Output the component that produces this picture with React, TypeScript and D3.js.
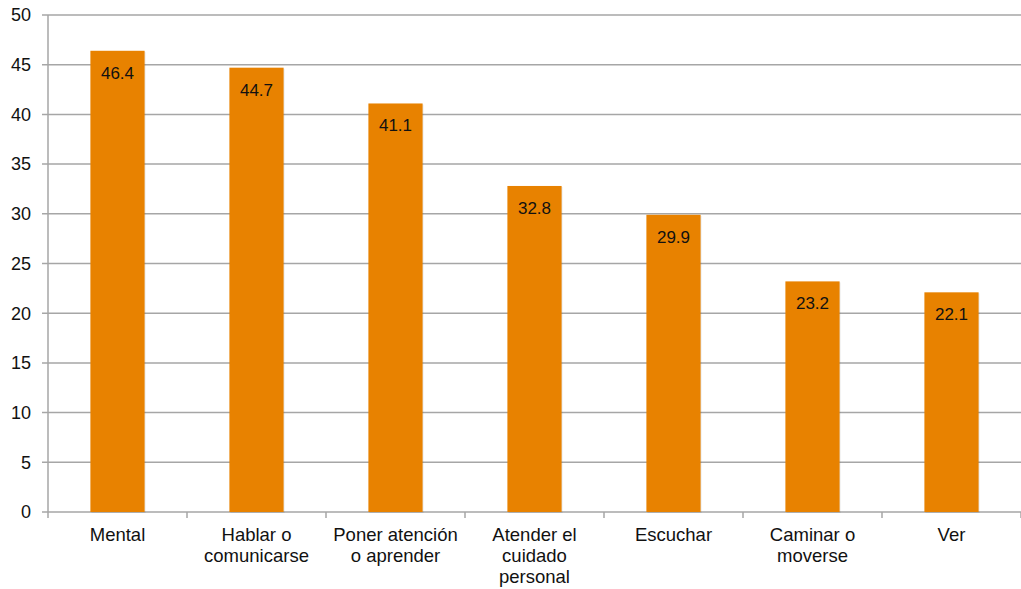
import React from "react";
import * as d3 from "d3";

const categories: string[][] = [
  ["Mental"],
  ["Hablar o", "comunicarse"],
  ["Poner atención", "o aprender"],
  ["Atender el", "cuidado", "personal"],
  ["Escuchar"],
  ["Caminar o", "moverse"],
  ["Ver"],
];
const values: number[] = [46.4, 44.7, 41.1, 32.8, 29.9, 23.2, 22.1];
const yTicks: number[] = [0, 5, 10, 15, 20, 25, 30, 35, 40, 45, 50];

const W = 1021;
const H = 589;
const margin = { left: 48, right: 0, top: 15, bottom: 77 };
const FONT = "'Liberation Sans', Arial, Helvetica, sans-serif";

export default function App() {
  const x = d3
    .scaleBand<number>()
    .domain(d3.range(categories.length))
    .range([margin.left, W - margin.right])
    .paddingInner(0)
    .paddingOuter(0);
  const y = d3.scaleLinear().domain([0, 50]).range([H - margin.bottom, margin.top]);
  const bw = x.bandwidth();
  const barW = bw * 0.39;
  const grid = "#a6a6a6";

  return (
    <svg
      width={W}
      height={H}
      style={{ position: "absolute", left: 0, top: 0, background: "#fff" }}
      fontFamily={FONT}
    >
      {yTicks.map((t) => (
        <g key={t}>
          <line x1={margin.left - 6} x2={W} y1={y(t)} y2={y(t)} stroke={grid} strokeWidth={1.5} />
          <text x={margin.left - 17} y={y(t)} dy="0.35em" textAnchor="end" fontSize={18} fill="#111">
            {t}
          </text>
        </g>
      ))}
      <line x1={margin.left} x2={margin.left} y1={margin.top} y2={y(0) + 6} stroke={grid} strokeWidth={1.5} />
      {categories.map((c, i) => (
        <line
          key={"t" + i}
          x1={(x(i) as number) + bw}
          x2={(x(i) as number) + bw}
          y1={y(0)}
          y2={y(0) + 6}
          stroke={grid}
          strokeWidth={1.5}
        />
      ))}
      {values.map((v, i) => {
        const cx = (x(i) as number) + bw / 2;
        return (
          <g key={"b" + i}>
            <rect x={cx - barW / 2 + 1} y={y(v) + 1} width={barW} height={y(0) - y(v)} fill="#000" opacity={0.08} />
            <rect x={cx - barW / 2} y={y(v)} width={barW} height={y(0) - y(v)} fill="#E88200" />
            <text x={cx} y={y(v) + 28} textAnchor="middle" fontSize={17} fill="#111">
              {v.toFixed(1)}
            </text>
          </g>
        );
      })}
      {categories.map((lines, i) => {
        const cx = (x(i) as number) + bw / 2;
        return (
          <text key={"c" + i} x={cx} y={y(0) + 29} textAnchor="middle" fontSize={18.5} fill="#111">
            {lines.map((l, j) => (
              <tspan key={j} x={cx} dy={j === 0 ? 0 : 21}>
                {l}
              </tspan>
            ))}
          </text>
        );
      })}
    </svg>
  );
}
